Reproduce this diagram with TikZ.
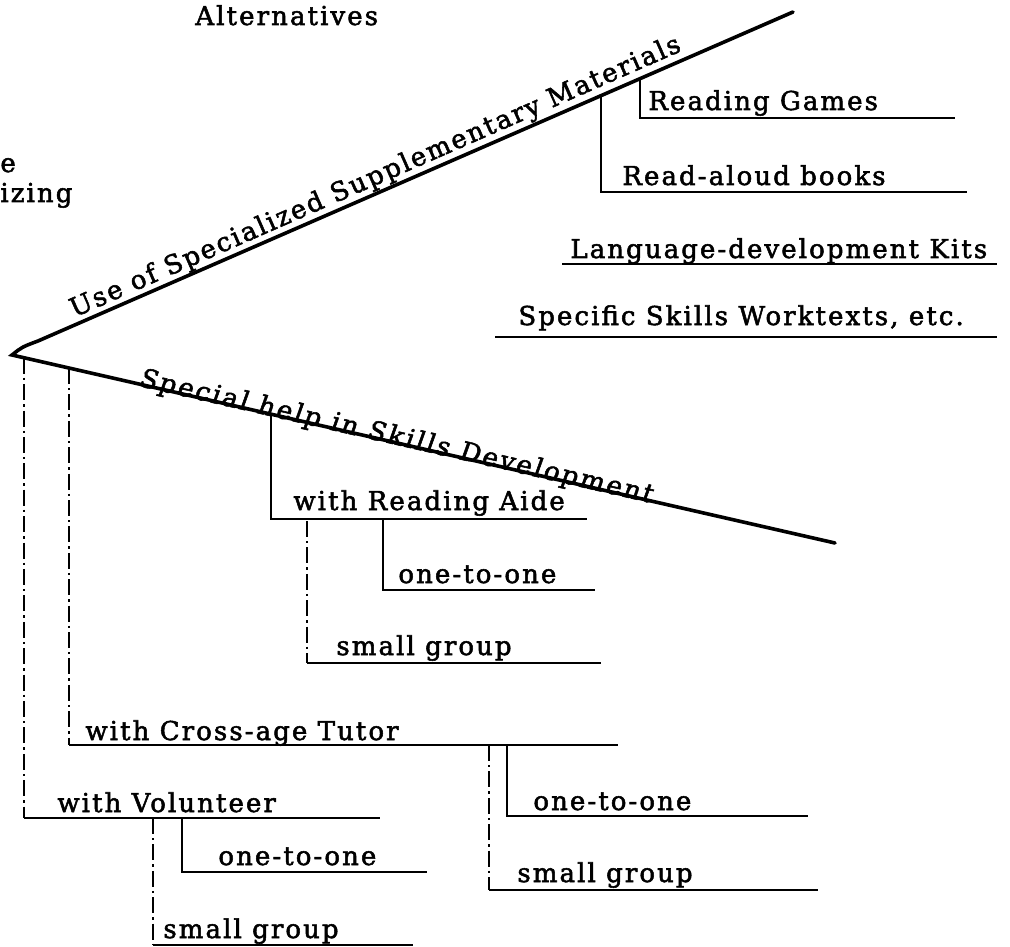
\documentclass[tikz,border=0pt]{standalone}
\usepackage{fontspec}
\setmainfont{DejaVu Serif}[LetterSpace=8,FakeBold=2]
\newfontfamily\slfont{DejaVu Serif}[LetterSpace=9,FakeBold=2,FakeSlant=0.12]
\usepackage{tikz}
\usetikzlibrary{positioning,calc}

\begin{document}
\begin{tikzpicture}[x=0.5pt,y=-0.5pt]
      \tikzstyle{t}=[inner sep=0pt,anchor=base west,font=\fontsize{13}{15}\selectfont]
      \tikzstyle{arm}=[line width=1.8pt,line cap=round]
      \tikzstyle{ln}=[line width=1.2pt]
      \tikzstyle{br}=[line width=1.1pt,dash pattern=on 8pt off 2pt on 1.2pt off 2pt]
      \useasboundingbox (0,0) rectangle (1010,946);
      \coordinate (o) at (12,355);
      \coordinate (h) at (38,341);
      \coordinate (u) at (793,12);
      \coordinate (s) at (835,543);
      \draw[arm] (u) -- (h) .. controls (22,347) .. (o) -- (s);
      \path (o) -- (u) node[t,sloped,pos=0.081,anchor=south west,inner sep=1.5pt] (use) {Use of Specialized Supplementary Materials};
      \path (o) -- (s) node[t,sloped,pos=0.153,yshift=-1pt,font=\slfont\fontsize{13}{15}\selectfont] (spec) {Special help in Skills Development};
      \node[t] (alt) at (195,25) {Alternatives};
      \node[t] (e) at (0,172) {e};
      \node[t] (iz) at (0,202) {izing};
      \coordinate (rg) at ($(o)!0.804!(u)$);
      \coordinate (ra) at ($(o)!0.754!(u)$);
      \coordinate (rgE) at (955,118);
      \coordinate (raE) at (967,192);
      \node[t] (games) at (648,110) {Reading Games};
      \node[t] (aloud) at (622,185) {Read-aloud books};
      \node[t] (kits) at (570,258) {Language-development Kits};
      \node[t] (work) at (518,325) {Specific Skills Worktexts, etc.};
      \coordinate (kitsA) at (562,264);
      \coordinate (kitsE) at (997,264);
      \coordinate (workA) at (495,337);
      \coordinate (workE) at (997,337);
      \draw[ln] (rg) |- (rgE);
      \draw[ln] (ra) |- (raE);
      \draw[ln] (kitsA) -- (kitsE);
      \draw[ln] (workA) -- (workE);
      \coordinate (vo) at ($(o)!0.0146!(s)$);
      \coordinate (ct) at ($(o)!0.0693!(s)$);
      \coordinate (ai) at ($(o)!0.3147!(s)$);
      \coordinate (aiE) at (587,519);
      \coordinate (ai1) at (383,519);
      \coordinate (ai1E) at (595,590);
      \coordinate (ai2) at (307,521);
      \coordinate (ai2E) at (601,663);
      \coordinate (ctE) at (618,745);
      \coordinate (ct1) at (507,745);
      \coordinate (ct1E) at (808,816);
      \coordinate (ct2) at (489,745);
      \coordinate (ct2E) at (818,890);
      \coordinate (voE) at (380,818);
      \coordinate (vo1) at (182,818);
      \coordinate (vo1E) at (427,872);
      \coordinate (vo2) at (153,818);
      \coordinate (vo2E) at (413,945);
      \node[t] (aide) at (293,510) {with Reading Aide};
      \node[t] (aide1) at (398,583) {one-to-one};
      \node[t] (aide2) at (336,655) {small group};
      \node[t] (tutor) at (85,740) {with Cross-age Tutor};
      \node[t] (tutor1) at (533,810) {one-to-one};
      \node[t] (tutor2) at (517,882) {small group};
      \node[t] (vol) at (57,812) {with Volunteer};
      \node[t] (vol1) at (218,865) {one-to-one};
      \node[t] (vol2) at (163,938) {small group};
      \draw[ln] (ai) |- (aiE);
      \draw[ln] (ai1) |- (ai1E);
      \draw[br] (ai2) -- (ai2 |- ai2E);
      \draw[ln] (ai2 |- ai2E) -- (ai2E);
      \draw[br] (ct) -- (ct |- ctE);
      \draw[ln] (ct |- ctE) -- (ctE);
      \draw[ln] (ct1) |- (ct1E);
      \draw[br] (ct2) -- (ct2 |- ct2E);
      \draw[ln] (ct2 |- ct2E) -- (ct2E);
      \draw[br] (vo) -- (vo |- voE);
      \draw[ln] (vo |- voE) -- (voE);
      \draw[ln] (vo1) |- (vo1E);
      \draw[br] (vo2) -- (vo2 |- vo2E);
      \draw[ln] (vo2 |- vo2E) -- (vo2E);
    \end{tikzpicture}
\end{document}
